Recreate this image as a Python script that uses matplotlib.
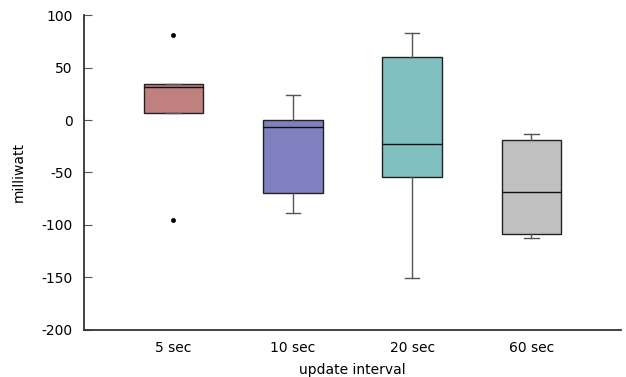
import matplotlib.pyplot as plt

plt.rcParams["axes.unicode_minus"] = False

labels = ["5 sec", "10 sec", "20 sec", "60 sec"]
q1 = [7, -70, -54, -109]
med = [31, -7, -23, -69]
q3 = [34, 0, 60, -19]
whislo = [7, -89, -151, -112]
whishi = [34, 24, 83, -13]
fliers = [[81, -95], [], [], []]
colors = ["#c08080", "#8080c0", "#80c0c0", "#c0c0c0"]

stats = []
for i in range(len(labels)):
    stats.append(dict(label=labels[i], q1=q1[i], med=med[i], q3=q3[i],
                      whislo=whislo[i], whishi=whishi[i], fliers=fliers[i]))

fig = plt.figure(figsize=(6.26, 3.77), dpi=100)
ax = fig.add_axes([0.134, 0.125, 0.858, 0.835])

bp = ax.bxp(stats, positions=[1, 2, 3, 4], widths=0.5, capwidths=0.12,
            patch_artist=True,
            boxprops=dict(edgecolor="#222222", linewidth=1),
            medianprops=dict(color="#111111", linewidth=1),
            whiskerprops=dict(color="#555555", linewidth=1),
            capprops=dict(color="#555555", linewidth=1),
            flierprops=dict(marker="o", markersize=2.5, markerfacecolor="black",
                            markeredgecolor="black"))
for patch, c in zip(bp["boxes"], colors):
    patch.set_facecolor(c)

ax.set_xlim(0.25, 4.75)
ax.set_ylim(-200, 100)
ax.set_yticks([-200, -150, -100, -50, 0, 50, 100])
ax.spines["top"].set_visible(False)
ax.spines["right"].set_visible(False)
for s in ["left", "bottom"]:
    ax.spines[s].set_color("#333333")
    ax.spines[s].set_linewidth(1.3)
ax.tick_params(axis="y", direction="in", length=6, color="#555555", pad=8, labelsize=10)
ax.tick_params(axis="x", length=0, pad=8, labelsize=10)
ax.set_ylabel("milliwatt", fontsize=10)
ax.yaxis.set_label_coords(-0.108, 0.5)
ax.set_xlabel("update interval", fontsize=10, labelpad=6)

fig.savefig("out.png", dpi=100)
